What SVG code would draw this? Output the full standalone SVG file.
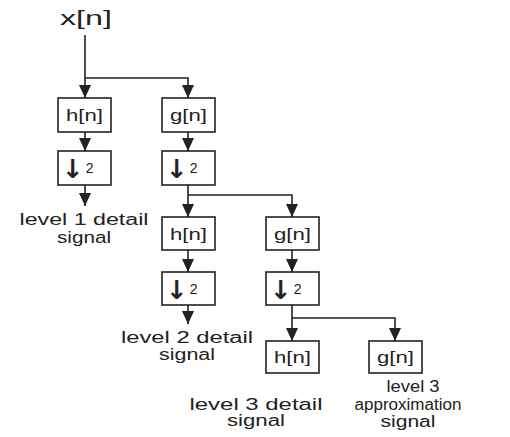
<svg xmlns="http://www.w3.org/2000/svg" width="510" height="437" viewBox="0 0 510 437">
  <style>
    .box { fill: #ffffff; stroke: #222222; stroke-width: 1.6; }
    .wire { fill: none; stroke: #222222; stroke-width: 1.6; }
    .lbl { font-family: "Liberation Sans", Arial, sans-serif; fill: #222222; text-anchor: middle; }
    .ftx { font-size: 17px; }
    .cap { font-size: 16px; }
    .arr { font-family: "DejaVu Sans", sans-serif; font-size: 26px; font-weight: bold; fill: #222222; }
    .two { font-family: "Liberation Sans", Arial, sans-serif; font-size: 14px; fill: #222222; }
  </style>
  <defs>
    <marker id="head" markerUnits="userSpaceOnUse" markerWidth="14" markerHeight="12" viewBox="0 0 14 12" refX="13" refY="6" orient="auto">
      <path d="M0,0 L13,6 L0,12 Z" fill="#222222"/>
    </marker>
  </defs>

  <rect width="510" height="437" fill="#ffffff"/>

  <!-- input signal -->
  <g id="input">
    <text class="lbl" x="86" y="25" font-size="20" textLength="52" lengthAdjust="spacingAndGlyphs">x[n]</text>
  </g>

  <!-- connectors -->
  <g id="connectors">
    <path class="wire" d="M85,35 V98" marker-end="url(#head)"/>
    <path class="wire" d="M85,78 H188 V98" marker-end="url(#head)"/>
    <path class="wire" d="M85,132 V151" marker-end="url(#head)"/>
    <path class="wire" d="M85,185 V206" marker-end="url(#head)"/>
    <path class="wire" d="M188,132 V151" marker-end="url(#head)"/>
    <path class="wire" d="M188,185 V217" marker-end="url(#head)"/>
    <path class="wire" d="M188,195 H292 V217" marker-end="url(#head)"/>
    <path class="wire" d="M188,250 V272" marker-end="url(#head)"/>
    <path class="wire" d="M188,305 V324" marker-end="url(#head)"/>
    <path class="wire" d="M292,250 V272" marker-end="url(#head)"/>
    <path class="wire" d="M292,305 V341" marker-end="url(#head)"/>
    <path class="wire" d="M292,318 H395 V341" marker-end="url(#head)"/>
  </g>

  <!-- level 1 -->
  <g id="h1">
    <rect class="box" x="58" y="98" width="53" height="34"/>
    <text class="lbl ftx" x="84.5" y="121" textLength="37" lengthAdjust="spacingAndGlyphs">h[n]</text>
  </g>
  <g id="d1">
    <rect class="box" x="58" y="151" width="53" height="34"/>
    <text x="62" y="178"><tspan class="arr">↓</tspan><tspan class="two" dx="2" dy="-5">2</tspan></text>
  </g>
  <g id="g1">
    <rect class="box" x="162" y="98" width="53" height="34"/>
    <text class="lbl ftx" x="188.5" y="121" textLength="37" lengthAdjust="spacingAndGlyphs">g[n]</text>
  </g>
  <g id="gd1">
    <rect class="box" x="162" y="151" width="53" height="34"/>
    <text x="166" y="178"><tspan class="arr">↓</tspan><tspan class="two" dx="2" dy="-5">2</tspan></text>
  </g>
  <g id="out1">
    <text class="lbl cap" x="84" y="225" textLength="129" lengthAdjust="spacingAndGlyphs">level 1 detail</text>
    <text class="lbl cap" x="84" y="243" textLength="54" lengthAdjust="spacingAndGlyphs">signal</text>
  </g>

  <!-- level 2 -->
  <g id="h2">
    <rect class="box" x="162" y="217" width="53" height="33"/>
    <text class="lbl ftx" x="188.5" y="239.5" textLength="37" lengthAdjust="spacingAndGlyphs">h[n]</text>
  </g>
  <g id="d2">
    <rect class="box" x="162" y="272" width="53" height="33"/>
    <text x="166" y="299"><tspan class="arr">↓</tspan><tspan class="two" dx="2" dy="-5">2</tspan></text>
  </g>
  <g id="g2">
    <rect class="box" x="266" y="217" width="53" height="33"/>
    <text class="lbl ftx" x="292.5" y="239.5" textLength="37" lengthAdjust="spacingAndGlyphs">g[n]</text>
  </g>
  <g id="gd2">
    <rect class="box" x="266" y="272" width="53" height="33"/>
    <text x="270" y="299"><tspan class="arr">↓</tspan><tspan class="two" dx="2" dy="-5">2</tspan></text>
  </g>
  <g id="out2">
    <text class="lbl cap" x="187" y="343" textLength="132" lengthAdjust="spacingAndGlyphs">level 2 detail</text>
    <text class="lbl cap" x="187" y="360" textLength="56" lengthAdjust="spacingAndGlyphs">signal</text>
  </g>

  <!-- level 3 -->
  <g id="h3">
    <rect class="box" x="266" y="341" width="53" height="32"/>
    <text class="lbl ftx" x="292.5" y="363" textLength="37" lengthAdjust="spacingAndGlyphs">h[n]</text>
  </g>
  <g id="g3">
    <rect class="box" x="369" y="341" width="53" height="32"/>
    <text class="lbl ftx" x="395.5" y="363" textLength="37" lengthAdjust="spacingAndGlyphs">g[n]</text>
  </g>
  <g id="out3">
    <text class="lbl cap" x="256" y="410" textLength="133" lengthAdjust="spacingAndGlyphs">level 3 detail</text>
    <text class="lbl cap" x="256" y="426" textLength="58" lengthAdjust="spacingAndGlyphs">signal</text>
  </g>
  <g id="approx3">
    <text class="lbl cap" x="413" y="392" font-size="17" textLength="53" lengthAdjust="spacingAndGlyphs">level 3</text>
    <text class="lbl cap" x="408" y="410" font-size="17" textLength="107" lengthAdjust="spacingAndGlyphs">approximation</text>
    <text class="lbl cap" x="408" y="427" font-size="17" textLength="55" lengthAdjust="spacingAndGlyphs">signal</text>
  </g>
</svg>
